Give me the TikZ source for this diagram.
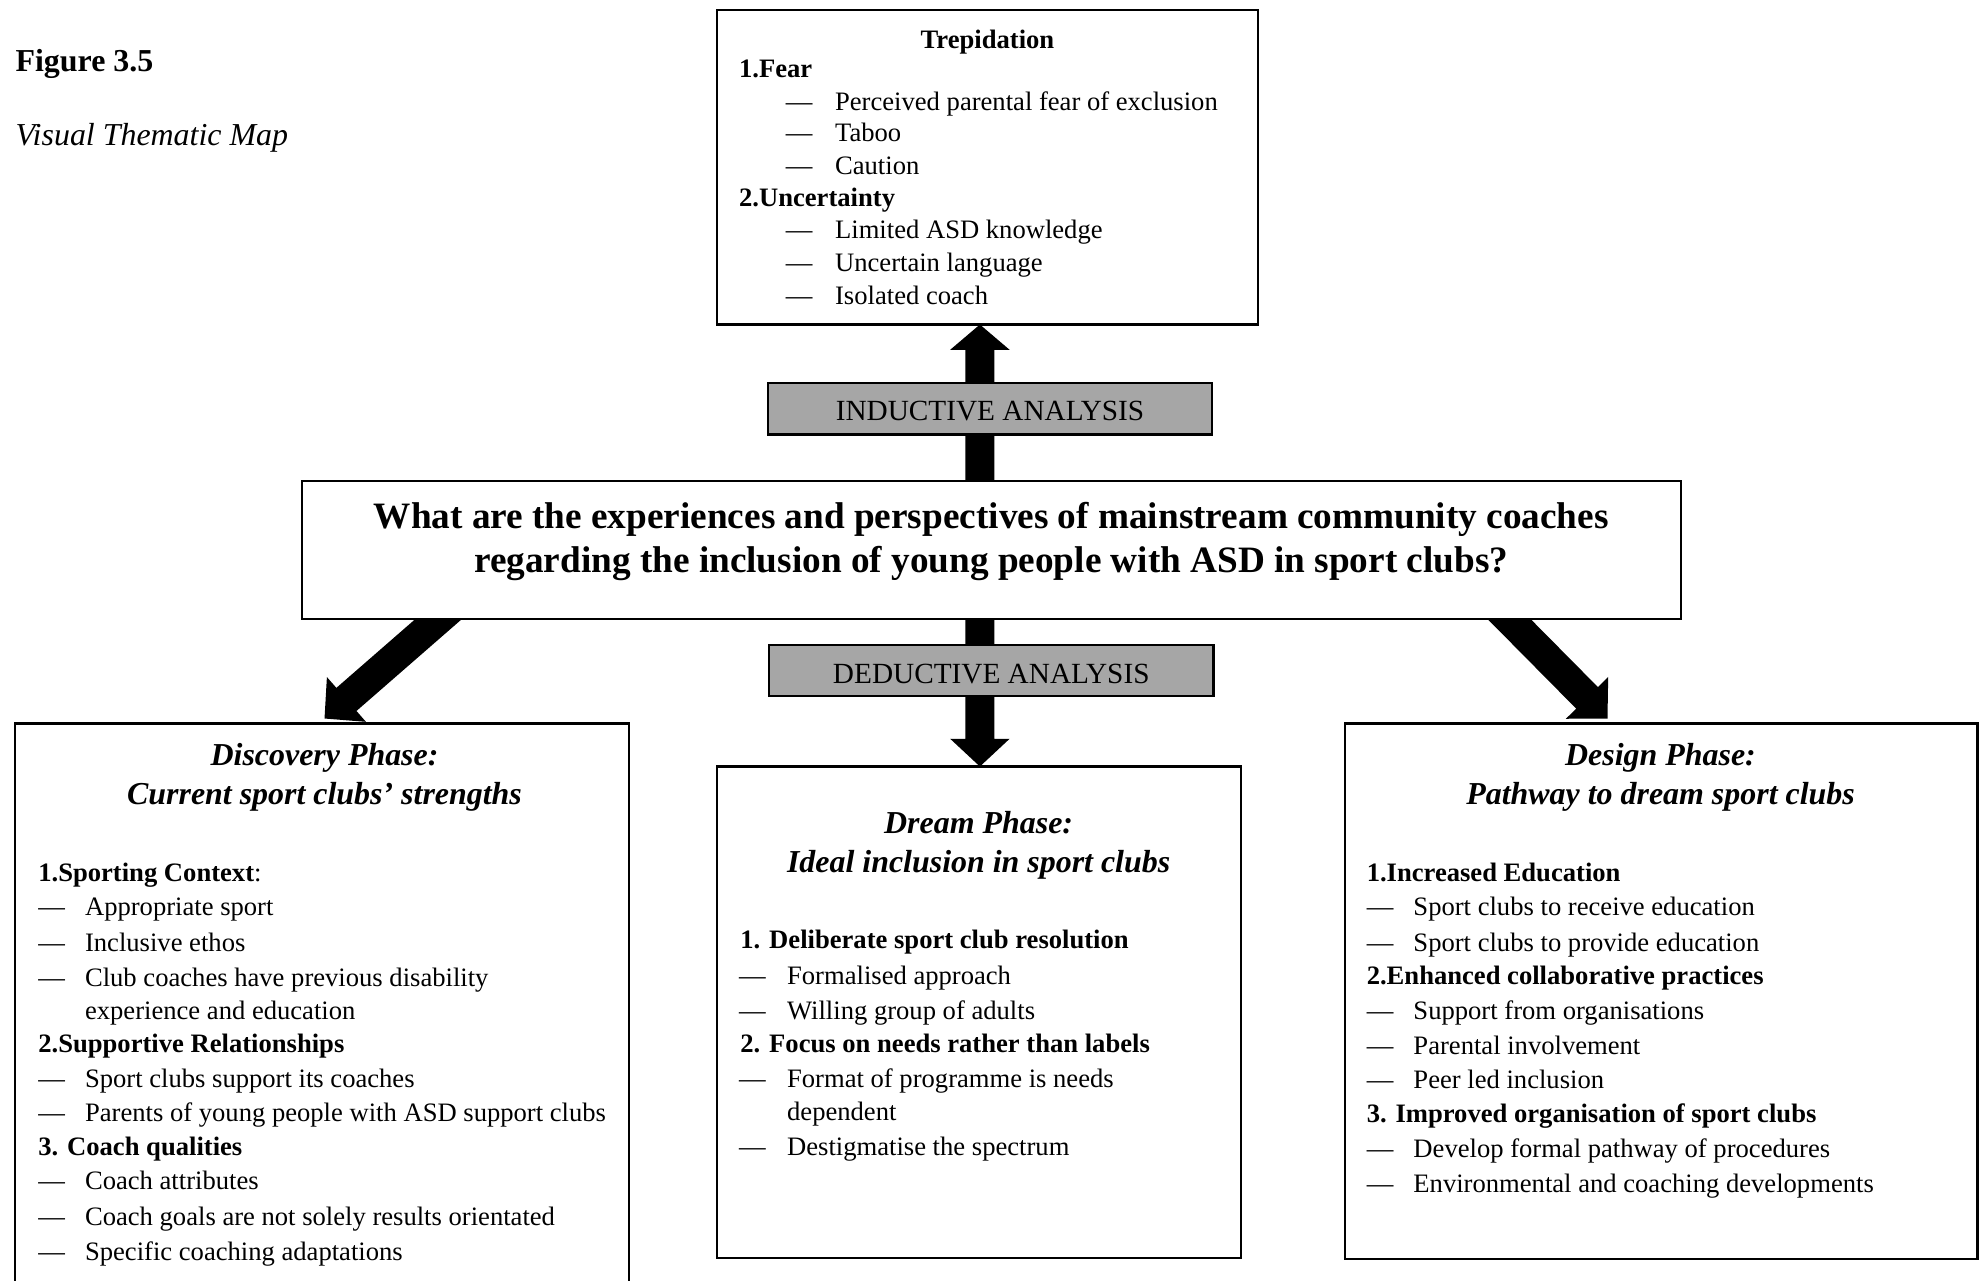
\documentclass[tikz,border=0pt]{standalone}
\usepackage{fontspec}
\setmainfont{Liberation Serif}
\usetikzlibrary{calc}

% one drawing unit
\newcommand\pxu{0.5695pt}
\definecolor{labelgray}{RGB}{166,166,166}

\tikzset{
  frame/.style={draw=black, line width=1pt, fill=white, inner sep=0pt, outer sep=0pt, anchor=north west},
  graybox/.style={frame, fill=labelgray},
  textbase/.style={inner sep=0pt, yshift=-2.4pt},
  body/.style={textbase, font=\fontsize{12}{14.5}\selectfont, anchor=mid west},
  bodyb/.style={body, font=\fontsize{12}{14.5}\selectfont\bfseries},
  phasehead/.style={textbase, font=\fontsize{14.4}{17}\selectfont\bfseries\itshape, anchor=mid},
  questiontext/.style={textbase, yshift=-0.6pt, font=\fontsize{16.8}{20}\selectfont\bfseries, anchor=mid},
  analysistext/.style={textbase, font=\fontsize{13.2}{16}\selectfont, anchor=mid},
}

% thick block arrow: start, tip, shaft half width, head length, head half width
\newcommand\blockarrow[5]{%
  \path (#2) coordinate (ba-t) ($(#2)!#4!(#1)$) coordinate (ba-b);
  \fill[black] ($(#1)!#3!90:(ba-t)$) -- ($(ba-b)!#3!90:(ba-t)$) -- ($(ba-b)!#5!90:(ba-t)$)
     -- (ba-t) -- ($(ba-b)!#5!-90:(ba-t)$) -- ($(ba-b)!#3!-90:(ba-t)$)
     -- ($(#1)!#3!-90:(ba-t)$) -- cycle;
}

% dash + item text on one line
\newcommand\entry[5]{%
  \node[body] (#1-dash) at (#2,#4) {\textemdash};
  \node[body] (#1) at (#3,#4) {#5};
}

\begin{document}
\begin{tikzpicture}[x=\pxu, y=-\pxu]
\useasboundingbox (0,0) rectangle (1568,1014);
\clip (0,0) rectangle (1568,1014);

% caption
\node[font=\fontsize{14.4}{17}\selectfont\bfseries, inner sep=0pt, anchor=base west] (figno) at (12,57) {Figure 3.5};
\node[font=\fontsize{14.4}{17}\selectfont\itshape, inner sep=0pt, anchor=base west] (figtitle) at (12,115) {Visual Thematic Map};

% arrow end points
\coordinate (upStart) at (776,395);
\coordinate (upTip) at (776,257);
\coordinate (downStart) at (776,478);
\coordinate (downTip) at (776,607);
\coordinate (leftStart) at (366,474);
\coordinate (leftTip) at (257,569);
\coordinate (rightStart) at (1179,474);
\coordinate (rightTip) at (1273,569);

% arrows
\blockarrow{upStart}{upTip}{6.55pt}{11.4pt}{13.4pt}
\blockarrow{downStart}{downTip}{6.55pt}{12.5pt}{13.4pt}
\blockarrow{leftStart}{leftTip}{6.9pt}{13.1pt}{13.4pt}
\blockarrow{rightStart}{rightTip}{6.9pt}{13.1pt}{13.4pt}

% boxes
\node[frame, minimum width=428*\pxu, minimum height=249*\pxu] (trep) at (568,8) {};
\node[graybox, minimum width=352*\pxu, minimum height=41*\pxu] (inductive) at (608,303) {};
\node[frame, minimum width=1092*\pxu, minimum height=109*\pxu] (question) at (239,381) {};
\node[graybox, minimum width=352*\pxu, minimum height=40*\pxu] (deductive) at (609,511) {};
\node[frame, minimum width=486*\pxu, minimum height=470*\pxu] (discovery) at (12,573) {};
\node[frame, minimum width=415*\pxu, minimum height=389*\pxu] (dream) at (568,607) {};
\node[frame, minimum width=501*\pxu, minimum height=424*\pxu] (design) at (1065,573) {};

% labels on the analysis bars
\node[analysistext] (indlabel) at (784,325) {INDUCTIVE ANALYSIS};
\node[analysistext] (dedlabel) at (785,533) {DEDUCTIVE ANALYSIS};

% research question
\node[questiontext] (q1) at (785,409) {What are the experiences and perspectives of mainstream community coaches};
\node[questiontext] (q2) at (785,444) {regarding the inclusion of young people with ASD in sport clubs?};

% Trepidation
\node[bodyb, anchor=mid] (trephead) at (782,30) {Trepidation};
\node[bodyb] (fear) at (585,53) {1.Fear};
\entry{tr1}{622}{661}{79}{Perceived parental fear of exclusion}
\entry{tr2}{622}{661}{104}{Taboo}
\entry{tr3}{622}{661}{130}{Caution}
\node[bodyb] (uncert) at (585,155) {2.Uncertainty};
\entry{tr4}{622}{661}{181}{Limited ASD knowledge}
\entry{tr5}{622}{661}{207}{Uncertain language}
\entry{tr6}{622}{661}{233}{Isolated coach}

% Discovery phase
\node[phasehead] (dischead1) at (257,598) {Discovery Phase:};
\node[phasehead] (dischead2) at (257,629) {Current sport clubs’ strengths};
\node[bodyb] (disc1) at (30,690) {1.Sporting Context\mdseries:};
\entry{di1}{30}{67}{717}{Appropriate sport}
\entry{di2}{30}{67}{745}{Inclusive ethos}
\entry{di3}{30}{67}{773}{Club coaches have previous disability}
\node[body] (di3b) at (67,799) {experience and education};
\node[bodyb] (disc2) at (30,825) {2.Supportive Relationships};
\entry{di4}{30}{67}{853}{Sport clubs support its coaches}
\entry{di5}{30}{67}{880}{Parents of young people with ASD support clubs}
\node[bodyb] (disc3) at (30,907) {3. Coach qualities};
\entry{di6}{30}{67}{934}{Coach attributes}
\entry{di7}{30}{67}{962}{Coach goals are not solely results orientated}
\entry{di8}{30}{67}{990}{Specific coaching adaptations}

% Dream phase
\node[phasehead] (drhead1) at (775,652) {Dream Phase:};
\node[phasehead] (drhead2) at (775,683) {Ideal inclusion in sport clubs};
\node[bodyb] (dr1) at (586,743) {1. Deliberate sport club resolution};
\entry{dm1}{585}{623}{771}{Formalised approach}
\entry{dm2}{585}{623}{799}{Willing group of adults}
\node[bodyb] (dr2) at (586,825) {2. Focus on needs rather than labels};
\entry{dm3}{585}{623}{853}{Format of programme is needs}
\node[body] (dm3b) at (623,879) {dependent};
\entry{dm4}{585}{623}{907}{Destigmatise the spectrum}

% Design phase
\node[phasehead] (dehead1) at (1315,598) {Design Phase:};
\node[phasehead] (dehead2) at (1315,629) {Pathway to dream sport clubs};
\node[bodyb] (de1) at (1082,690) {1.Increased Education};
\entry{ds1}{1082}{1119}{717}{Sport clubs to receive education}
\entry{ds2}{1082}{1119}{745}{Sport clubs to provide education}
\node[bodyb] (de2) at (1082,771) {2.Enhanced collaborative practices};
\entry{ds3}{1082}{1119}{799}{Support from organisations}
\entry{ds4}{1082}{1119}{827}{Parental involvement}
\entry{ds5}{1082}{1119}{854}{Peer led inclusion}
\node[bodyb] (de3) at (1082,881) {3. Improved organisation of sport clubs};
\entry{ds6}{1082}{1119}{908}{Develop formal pathway of procedures}
\entry{ds7}{1082}{1119}{936}{Environmental and coaching developments}
\end{tikzpicture}
\end{document}
